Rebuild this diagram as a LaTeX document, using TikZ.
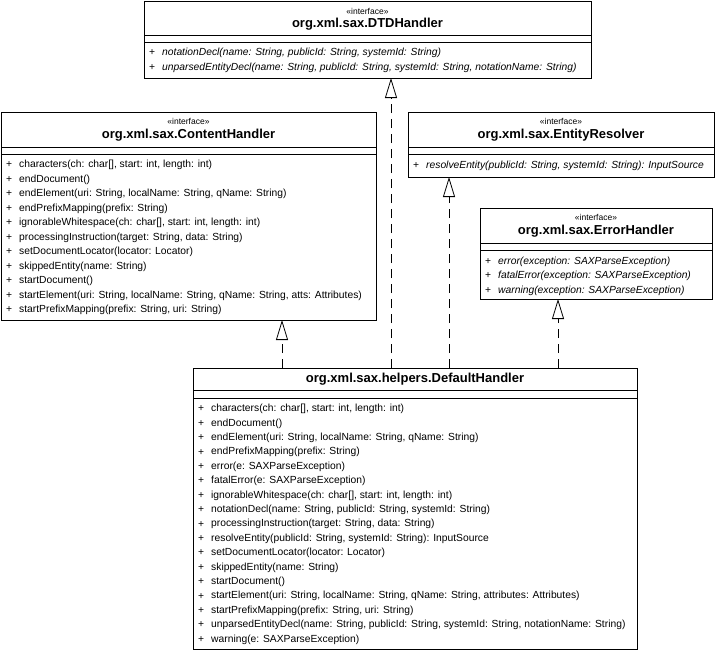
\documentclass[tikz,border=0pt]{standalone}
\usepackage{fontspec}
\setmainfont{Liberation Sans}
\usetikzlibrary{arrows.meta,shadows}
\begin{document}
\begin{tikzpicture}[x=1pt,y=-1pt,
  cls/.style={draw, line width=0.8pt, fill=white, rectangle, inner sep=0pt, outer sep=0pt, anchor=north west,
    drop shadow={shadow xshift=1.3pt, shadow yshift=-1.3pt, fill=black!45, opacity=1}},
  stereo/.style={font=\fontsize{8.5}{10}\selectfont, inner sep=0pt},
  ttl/.style={font=\fontsize{13}{15}\selectfont\bfseries, inner sep=0pt},
  mem/.style={font=\fontsize{10.3}{12}\selectfont, anchor=west, inner sep=0pt},
  imem/.style={font=\fontsize{10.3}{12}\selectfont\itshape, anchor=west, inner sep=0pt},
  sep/.style={line width=0.8pt},
  impl/.style={line width=0.8pt, dash pattern=on 9pt off 6pt,
    -{Triangle[open, length=20pt, width=12pt, line width=0.8pt]}}]
\useasboundingbox (0,0) rectangle (717,651);

% ---------- DTDHandler ----------
\node[cls, minimum width=447pt, minimum height=77pt] (dtd) at (144,1) {};
\node[stereo] (dtd-s) at (367.5,11) {«interface»};
\node[ttl] (dtd-t) at (367.5,24) {org.xml.sax.DTDHandler};
\draw[sep] (dtd.west |- 0,35) -- (dtd.east |- 0,35);
\draw[sep] (dtd.west |- 0,42) -- (dtd.east |- 0,42);
\foreach \t [count=\i from 0] in {{notationDecl(name: String, publicId: String, systemId: String)},
  {unparsedEntityDecl(name: String, publicId: String, systemId: String, notationName: String)}}{
  \node[mem] (dtd-p\i) at (149,{53+14.5*\i}) {+};
  \node[imem] (dtd-m\i) at (162,{53+14.5*\i}) {\t};
}

% ---------- ContentHandler ----------
\node[cls, minimum width=375pt, minimum height=208pt] (ch) at (1,112) {};
\node[stereo] (ch-s) at (188.5,121) {«interface»};
\node[ttl] (ch-t) at (188.5,135) {org.xml.sax.ContentHandler};
\draw[sep] (ch.west |- 0,147) -- (ch.east |- 0,147);
\draw[sep] (ch.west |- 0,154) -- (ch.east |- 0,154);
\foreach \t [count=\i from 0] in {
  {characters(ch: char[], start: int, length: int)},
  {endDocument()},
  {endElement(uri: String, localName: String, qName: String)},
  {endPrefixMapping(prefix: String)},
  {ignorableWhitespace(ch: char[], start: int, length: int)},
  {processingInstruction(target: String, data: String)},
  {setDocumentLocator(locator: Locator)},
  {skippedEntity(name: String)},
  {startDocument()},
  {startElement(uri: String, localName: String, qName: String, atts: Attributes)},
  {startPrefixMapping(prefix: String, uri: String)}}{
  \node[mem] (ch-p\i) at (6,{165+14.5*\i}) {+};
  \node[mem] (ch-m\i) at (19,{165+14.5*\i}) {\t};
}

% ---------- EntityResolver ----------
\node[cls, minimum width=306pt, minimum height=65pt] (er) at (408,112) {};
\node[stereo] (er-s) at (561,121) {«interface»};
\node[ttl] (er-t) at (561,135) {org.xml.sax.EntityResolver};
\draw[sep] (er.west |- 0,147) -- (er.east |- 0,147);
\draw[sep] (er.west |- 0,154) -- (er.east |- 0,154);
\node[mem] (er-p0) at (413,165.5) {+};
\node[imem] (er-m0) at (426,165.5) {resolveEntity(publicId: String, systemId: String): InputSource};

% ---------- ErrorHandler ----------
\node[cls, minimum width=232pt, minimum height=91pt] (eh) at (480,208) {};
\node[stereo] (eh-s) at (596,217) {«interface»};
\node[ttl] (eh-t) at (596,231) {org.xml.sax.ErrorHandler};
\draw[sep] (eh.west |- 0,243) -- (eh.east |- 0,243);
\draw[sep] (eh.west |- 0,250) -- (eh.east |- 0,250);
\foreach \t [count=\i from 0] in {
  {error(exception: SAXParseException)},
  {fatalError(exception: SAXParseException)},
  {warning(exception: SAXParseException)}}{
  \node[mem] (eh-p\i) at (485,{261.5+14.5*\i}) {+};
  \node[imem] (eh-m\i) at (498,{261.5+14.5*\i}) {\t};
}

% ---------- DefaultHandler ----------
\node[cls, minimum width=444pt, minimum height=281pt] (dh) at (193,368) {};
\node[ttl] (dh-t) at (415,379) {org.xml.sax.helpers.DefaultHandler};
\draw[sep] (dh.west |- 0,390) -- (dh.east |- 0,390);
\draw[sep] (dh.west |- 0,398) -- (dh.east |- 0,398);
\foreach \t [count=\i from 0] in {
  {characters(ch: char[], start: int, length: int)},
  {endDocument()},
  {endElement(uri: String, localName: String, qName: String)},
  {endPrefixMapping(prefix: String)},
  {error(e: SAXParseException)},
  {fatalError(e: SAXParseException)},
  {ignorableWhitespace(ch: char[], start: int, length: int)},
  {notationDecl(name: String, publicId: String, systemId: String)},
  {processingInstruction(target: String, data: String)},
  {resolveEntity(publicId: String, systemId: String): InputSource},
  {setDocumentLocator(locator: Locator)},
  {skippedEntity(name: String)},
  {startDocument()},
  {startElement(uri: String, localName: String, qName: String, attributes: Attributes)},
  {startPrefixMapping(prefix: String, uri: String)},
  {unparsedEntityDecl(name: String, publicId: String, systemId: String, notationName: String)},
  {warning(e: SAXParseException)}}{
  \node[mem] (dh-p\i) at (198,{409+14.4*\i}) {+};
  \node[mem] (dh-m\i) at (211,{409+14.4*\i}) {\t};
}

% ---------- realizations ----------
\coordinate (tdtd) at ([xshift=23.5pt]dtd.south);
\coordinate (tch) at ([xshift=93.5pt]ch.south);
\coordinate (ter) at ([xshift=-112pt]er.south);
\coordinate (teh) at ([xshift=-38pt]eh.south);
\draw[impl] (dh.north -| tdtd) -- (tdtd);
\draw[impl] (dh.north -| tch) -- (tch);
\draw[impl] (dh.north -| ter) -- (ter);
\draw[impl] (dh.north -| teh) -- (teh);
\end{tikzpicture}
\end{document}
